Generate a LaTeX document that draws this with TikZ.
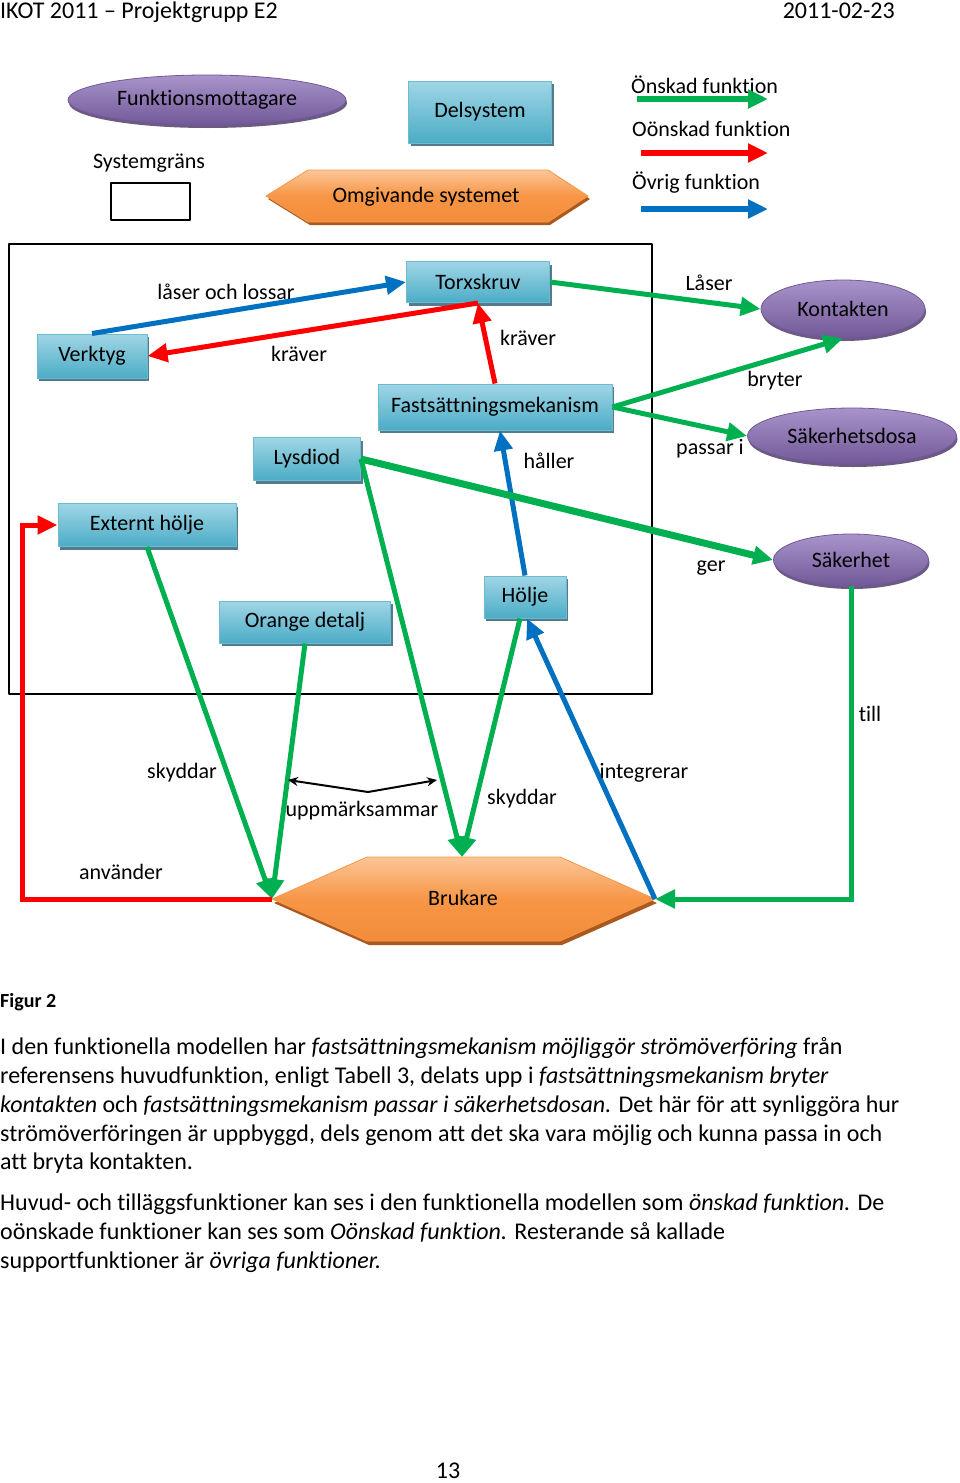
\documentclass[tikz,border=0pt]{standalone}
\usepackage{fontspec}
\setmainfont{Carlito}[Ligatures=NoCommon]
\usetikzlibrary{arrows.meta,shapes.geometric,shadows}
\definecolor{onskad}{RGB}{0,176,80}
\definecolor{oonskad}{RGB}{255,0,0}
\definecolor{ovrig}{RGB}{0,112,192}
\definecolor{delTop}{RGB}{160,214,230}
\definecolor{delBot}{RGB}{75,172,198}
\definecolor{delEdge}{RGB}{110,186,208}
\definecolor{delSkugga}{RGB}{40,90,110}
\definecolor{lilaTop}{RGB}{168,148,202}
\definecolor{lilaBot}{RGB}{114,88,152}
\definecolor{lilaSkugga}{RGB}{70,50,100}
\definecolor{orTop}{RGB}{251,198,152}
\definecolor{orMid}{RGB}{247,150,70}
\definecolor{orBot}{RGB}{242,140,58}
\definecolor{orSkugga}{RGB}{170,90,30}
\begin{document}
\begin{tikzpicture}[x=1pt,y=-1pt,>={Triangle[length=20pt,width=18pt]},line join=round,
	font=\fontsize{22}{26}\selectfont,
	delbox/.style={rectangle,draw=delEdge,line width=1pt,top color=delTop,bottom color=delBot,inner sep=0pt,
		drop shadow={shadow xshift=2pt,shadow yshift=-3pt,fill=delSkugga,opacity=.8}},
	mottagare/.style={ellipse,draw=lilaBot,line width=.8pt,top color=lilaTop,bottom color=lilaBot,inner sep=0pt,
		drop shadow={shadow xshift=1pt,shadow yshift=-3pt,fill=lilaSkugga,opacity=.8}},
	omgiv/.style={draw=orMid,line width=.8pt,top color=orTop,bottom color=orBot,middle color=orMid},
	lbl/.style={inner sep=0pt},
	pil/.style={line width=5pt,->},
	onskadpil/.style={pil,draw=onskad},
	oonskadpil/.style={pil,draw=oonskad},
	ovrigpil/.style={pil,draw=ovrig}]
	\useasboundingbox (0,0) rectangle (960,1483);
	% sidhuvud
	\node[lbl,anchor=base west,font=\fontsize{24}{29}\selectfont] (huvud) at (0,18) {IKOT 2011 -- Projektgrupp E2};
	\node[lbl,anchor=base east,font=\fontsize{24}{29}\selectfont] (datum) at (895,18) {2011-02-23};
	% teckenförklaring
	\node[mottagare,minimum width=278pt,minimum height=50pt] (funk) at (207,100) {Funktionsmottagare};
	\node[delbox,minimum width=143pt,minimum height=62pt] (delsys) at (480,112) {Delsystem};
	\node[lbl] (grans) at (149,163) {Systemgräns};
	\draw[line width=1.5pt] (111,183) rectangle (190,220);
	\begin{scope}[shift={(2,3)}]
		\fill[orSkugga] (266,196)--(308,170)--(548,170)--(588,196)--(548,222)--(308,222)--cycle;
	\end{scope}
	\draw[omgiv] (266,196)--(308,170)--(548,170)--(588,196)--(548,222)--(308,222)--cycle;
	\node[lbl] (omgivande) at (426,197) {Omgivande systemet};
	\node[lbl,anchor=west] (tOnskad) at (631,85) {Önskad funktion};
	\node[lbl,anchor=west] (tOonskad) at (632,129) {Oönskad funktion};
	\node[lbl,anchor=west] (tOvrig) at (632,183) {Övrig funktion};
	\coordinate (g1) at (637,99);  \coordinate (g2) at (768,99);
	\coordinate (r1) at (641,153); \coordinate (r2) at (768,153);
	\coordinate (b1) at (641,209); \coordinate (b2) at (768,209);
	\draw[onskadpil,line width=6pt] (g1) -- (g2);
	\draw[oonskadpil,line width=6pt] (r1) -- (r2);
	\draw[ovrigpil,line width=6pt] (b1) -- (b2);
	% systemgräns
	\draw[line width=1.5pt] (9,244) rectangle (652,694);
	% delsystem
	\node[delbox,minimum width=143pt,minimum height=41pt] (torx) at (478,282) {Torxskruv};
	\node[delbox,minimum width=110pt,minimum height=44pt] (verktyg) at (92,356) {Verktyg};
	\node[delbox,minimum width=234pt,minimum height=46pt] (fast) at (495,407) {Fastsättningsmekanism};
	\node[delbox,minimum width=107pt,minimum height=43pt] (lysdiod) at (307,459) {Lysdiod};
	\node[delbox,minimum width=178pt,minimum height=43pt] (extern) at (147,525) {Externt hölje};
	\node[delbox,minimum width=171pt,minimum height=42pt] (orange) at (305,622) {Orange detalj};
	\node[delbox,minimum width=82pt,minimum height=42pt] (holje) at (525,597) {Hölje};
	% funktionsmottagare
	\node[mottagare,minimum width=164pt,minimum height=58pt] (kontakt) at (843,309) {Kontakten};
	\node[mottagare,minimum width=209pt,minimum height=56pt] (dosa) at (852,436) {Säkerhetsdosa};
	\node[mottagare,minimum width=155pt,minimum height=52pt] (sakerhet) at (851,560) {Säkerhet};
	% brukare
	\coordinate (brL) at (272,899);
	\coordinate (brR) at (655,899);
	\coordinate (brT) at (462,857);
	\begin{scope}[shift={(2,4)}]
		\fill[orSkugga] (272,899)--(367,857)--(560,857)--(655,899)--(560,941)--(367,941)--cycle;
	\end{scope}
	\draw[omgiv] (brL)--(367,857)--(560,857)--(brR)--(560,941)--(367,941)--cycle;
	\node[lbl] (brukare) at (463,898) {Brukare};
	% funktioner
	\draw[ovrigpil] (verktyg.north) -- (torx.west);
	\draw[oonskadpil] (torx.south) -- (verktyg.east);
	\draw[oonskadpil] (fast.north) -- (torx.south);
	\draw[onskadpil] (torx.east) -- (kontakt.west);
	\draw[onskadpil] (fast.east) -- (kontakt.south);
	\draw[onskadpil] (fast.east) -- (dosa.west);
	\draw[ovrigpil] (holje.north) -- ([xshift=5pt]fast.south);
	\draw[onskadpil,line width=7pt] (lysdiod.east) -- (sakerhet.west);
	\draw[onskadpil] (lysdiod.east) -- (brT);
	\draw[onskadpil] ([xshift=-5pt]holje.south) -- (brT);
	\draw[onskadpil] (extern.south) -- (brL);
	\draw[onskadpil] (orange.south) -- (brL);
	\draw[ovrigpil] (brR) -- ([xshift=2pt]holje.south);
	\draw[onskadpil,line join=miter] (sakerhet.south) |- (brR);
	\coordinate (hornR) at (22,899);
	\draw[oonskadpil,line join=miter] (brL) -- (hornR) |- (extern.west);
	\coordinate (u1) at (288,780); \coordinate (um) at (368,792); \coordinate (u2) at (437,780);
	\draw[line width=2pt,{Stealth[length=10pt,width=9pt]}-{Stealth[length=10pt,width=9pt]}] (u1) -- (um) -- (u2);
	% etiketter
	\node[lbl] (l1) at (226,292) {låser och lossar};
	\node[lbl] (l2) at (299,354) {kräver};
	\node[lbl] (l3) at (528,338) {kräver};
	\node[lbl] (l4) at (709,283) {Låser};
	\node[lbl] (l5) at (775,381) {bryter};
	\node[lbl] (l6) at (710,449) {passar i};
	\node[lbl] (l7) at (549,461) {håller};
	\node[lbl] (l8) at (711,568) {ger};
	\node[lbl] (l9) at (870,714) {till};
	\node[lbl] (l10) at (182,773) {skyddar};
	\node[lbl] (l11) at (362,811) {uppmärksammar};
	\node[lbl] (l12) at (522,799) {skyddar};
	\node[lbl] (l13) at (644,773) {integrerar};
	\node[lbl] (l14) at (121,872) {använder};
	% brödtext
	\node[lbl,anchor=base west,font=\fontsize{20}{24}\selectfont\bfseries] (figur) at (0,1007) {Figur 2};
	\begin{scope}[every node/.style={lbl,anchor=base west},font=\fontsize{24}{29}\selectfont]
		\node (p1) at (0,1054) {I den funktionella modellen har \textit{fastsättningsmekanism möjliggör strömöverföring} från};
		\node (p2) at (0,1083) {referensens huvudfunktion, enligt Tabell 3, delats upp i \textit{fastsättningsmekanism bryter}};
		\node (p3) at (0,1112) {\textit{kontakten} och \textit{fastsättningsmekanism passar i säkerhetsdosan.} Det här för att synliggöra hur};
		\node (p4) at (0,1141) {strömöverföringen är uppbyggd, dels genom att det ska vara möjlig och kunna passa in och};
		\node (p5) at (0,1169) {att bryta kontakten.};
		\node (p6) at (0,1210) {Huvud- och tilläggsfunktioner kan ses i den funktionella modellen som \textit{önskad funktion.} De};
		\node (p7) at (0,1239) {oönskade funktioner kan ses som \textit{Oönskad funktion.} Resterande så kallade};
		\node (p8) at (0,1268) {supportfunktioner är \textit{övriga funktioner.}};
	\end{scope}
	\node[lbl,anchor=base,font=\fontsize{24}{29}\selectfont] (sida) at (448,1478) {13};
\end{tikzpicture}
\end{document}
